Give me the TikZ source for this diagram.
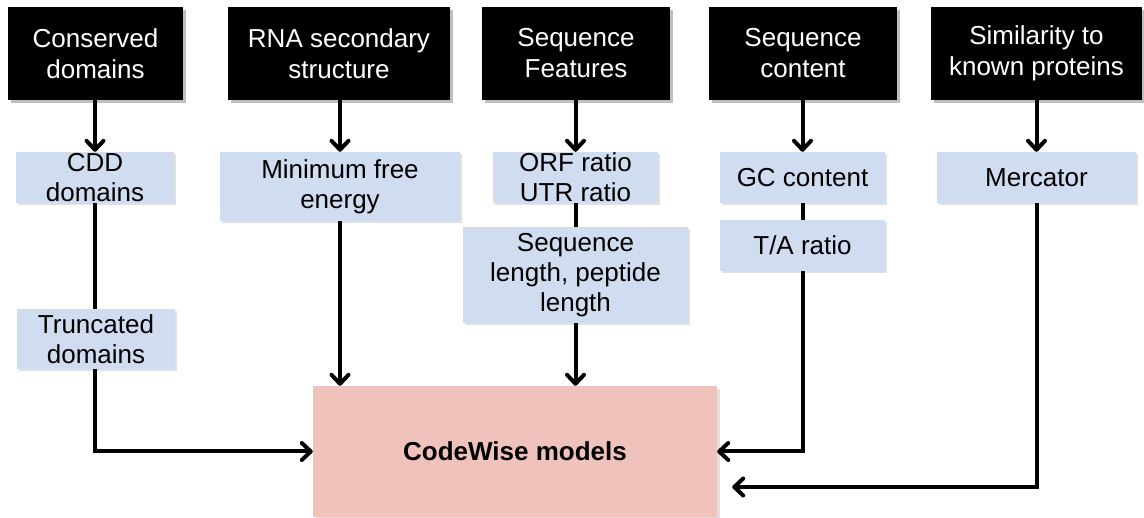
\documentclass[tikz,border=0pt]{standalone}
\usepackage{fontspec}
\setmainfont{Liberation Sans}
\usetikzlibrary{arrows.meta,calc,shadows,backgrounds}
\definecolor{boxblue}{RGB}{208,220,240}
\definecolor{boxpink}{RGB}{240,194,188}
\begin{document}
\begin{tikzpicture}[x=1pt,y=-1pt,
  hdr/.style={fill=black, text=white, minimum height=93pt, align=center,
    font=\fontsize{26}{31}\selectfont, inner sep=0pt,
    drop shadow={shadow xshift=3pt, shadow yshift=-3pt, opacity=0.25, fill=black}},
  feat/.style={fill=boxblue, text=black, align=center,
    font=\fontsize{26}{30}\selectfont, inner sep=0pt,
    drop shadow={shadow xshift=2pt, shadow yshift=-2pt, opacity=0.12, fill=black}},
  model/.style={fill=boxpink, text=black, align=center,
    font=\bfseries\fontsize{26}{30}\selectfont, inner sep=0pt,
    drop shadow={shadow xshift=3pt, shadow yshift=-3pt, opacity=0.12, fill=black}},
  conn/.style={line width=4pt, draw=black},
  arr/.style={conn, -{Straight Barb[length=9pt,width=17pt,round]}}
]
\useasboundingbox (0,0) rectangle (1144,518);
% header boxes
\node[hdr, minimum width=175pt] (cons) at (95.5,53.5) {Conserved\\domains};
\node[hdr, minimum width=222pt] (rna) at (339,53.5) {RNA secondary\\structure};
\node[hdr, minimum width=188pt] (seqf) at (576,53.5) {Sequence\\Features};
\node[hdr, minimum width=188pt] (seqc) at (803,53.5) {Sequence\\content};
\node[hdr, minimum width=211pt] (sim) at (1036.5,53.5) {Similarity to\\known proteins};
% feature boxes
\node[feat, minimum width=158pt, minimum height=51pt] (cdd) at (95,177.5) {CDD\\domains};
\node[feat, minimum width=158pt, minimum height=60pt] (trunc) at (96,339) {Truncated\\domains};
\node[feat, minimum width=240pt, minimum height=69pt] (mfe) at (340,186.5) {Minimum free\\energy};
\node[feat, minimum width=165pt, minimum height=51pt] (orf) at (575.5,177.5) {ORF ratio\\UTR ratio};
\node[feat, minimum width=225pt, minimum height=96pt] (len) at (575.5,275) {Sequence\\length, peptide\\length};
\node[feat, minimum width=165pt, minimum height=51pt] (gc) at (802.5,177.5) {GC content};
\node[feat, minimum width=165pt, minimum height=51pt] (ta) at (802.5,245.5) {T/A ratio};
\node[feat, minimum width=199pt, minimum height=51pt] (merc) at (1036.5,177.5) {Mercator};
% model box
\node[model, minimum width=404pt, minimum height=131pt] (cw) at (515,451.5) {CodeWise models};
\coordinate (mend) at ($(cw.east)+(15,35.5)$);
% connectors
\begin{scope}[on background layer]
\draw[arr] (cons.south -| cdd.north) -- (cdd.north);
\draw[arr] (rna.south -| mfe.north) -- (mfe.north);
\draw[arr] (seqf.south -| orf.north) -- (orf.north);
\draw[arr] (seqc.south -| gc.north) -- (gc.north);
\draw[arr] (sim.south -| merc.north) -- (merc.north);
\draw[conn] (cdd.south) -- (cdd.south |- trunc.north);
\draw[arr] (cdd.south |- trunc.south) |- (cw.west);
\draw[arr] (mfe.south) -- (mfe.south |- cw.north);
\draw[conn] (orf.south) -- (len.north);
\draw[arr] (len.south) -- (len.south |- cw.north);
\draw[conn] (gc.south) -- (ta.north);
\draw[arr] (ta.south) |- (cw.east);
\draw[arr] (merc.south) |- (mend);
\end{scope}
\end{tikzpicture}
\end{document}
